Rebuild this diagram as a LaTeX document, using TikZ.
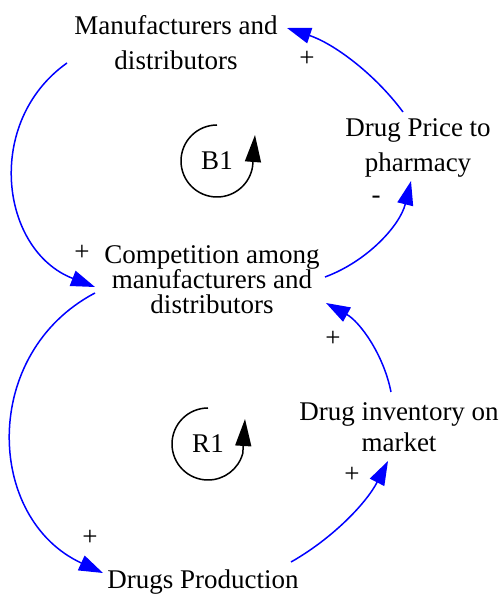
\documentclass[tikz,border=0pt]{standalone}
\usepackage{fontspec}
\setmainfont{Liberation Serif}
\usetikzlibrary{arrows.meta}
\tikzset{
  var/.style={align=center, inner sep=0pt, text=black},
  sp35/.style={font=\fontsize{27}{35}\selectfont},
  sp31/.style={font=\fontsize{27}{31}\selectfont},
  sp25/.style={font=\fontsize{27}{25}\selectfont},
  sign/.style={inner sep=0pt, font=\fontsize{27}{30}\selectfont},
  link/.style={draw={rgb,255:red,0;green,0;blue,255}, line width=1.5pt,
    -{Triangle[length=24pt,width=16pt,fill={rgb,255:red,0;green,0;blue,255}]}},
  loopsym/.style={draw=black, line width=1.5pt, -{Triangle[length=27pt,width=16pt]}},
  looplbl/.style={inner sep=0pt, font=\fontsize{27}{30}\selectfont}
}
\begin{document}
\begin{tikzpicture}[x=1pt,y=1pt]
\useasboundingbox (0,0) rectangle (502,595);
% variables
\node[var,sp35] (mfg) at (176,552.5) {Manufacturers and\\distributors};
\node[var,sp35] (price) at (418,447.5) {Drug Price to\\pharmacy};
\node[var,sp25] (comp) at (212,315) {Competition among\\manufacturers and\\distributors};
\node[var,sp31] (inv) at (399,167.5) {Drug inventory on\\market};
\node[var,sp35] (prod) at (203,13) {Drugs Production};
% links
\draw[link] ([shift={(-109,-20.5)}]mfg.center) to[out=215.35,in=158.9,looseness=1.156] ([shift={(-117,-7)}]comp.center);
\draw[link] ([shift={(-117,-13)}]comp.center) to[out=207.7,in=155.25,looseness=1.181] ([shift={(-100,9)}]prod.center);
\draw[link] ([shift={(113,3)}]comp.center) to[out=20.3,in=256.1,looseness=0.904] ([shift={(-7,-33.5)}]price.center);
\draw[link] ([shift={(-15,35.5)}]price.center) to[out=126.6,in=341.6,looseness=0.871] ([shift={(111,14.5)}]mfg.center);
\draw[link] ([shift={(88,20)}]prod.center) to[out=29.55,in=242.8,looseness=0.87] ([shift={(-11,-33.5)}]inv.center);
\draw[link] ([shift={(-8,35.5)}]inv.center) to[out=101.2,in=331.1,looseness=0.893] ([shift={(114,-23)}]comp.center);
% polarities
\node[sign] (s1) at (307,536) {+};
\node[sign] (s2) at (376,395) {-};
\node[sign] (s3) at (82,342) {+};
\node[sign] (s4) at (333,256) {+};
\node[sign] (s5) at (352,120) {+};
\node[sign] (s6) at (90,57) {+};
% loop symbols
\node[looplbl] (B1) at (217,434) {B1};
\draw[loopsym] ([yshift=36pt]B1.center) arc[start angle=90,end angle=352,radius=36pt] -- ([shift={(38,26)}]B1.center);
\node[looplbl] (R1) at (208,151) {R1};
\draw[loopsym] ([yshift=36pt]R1.center) arc[start angle=90,end angle=345,radius=36pt] -- ([shift={(37,25)}]R1.center);
\end{tikzpicture}
\end{document}
